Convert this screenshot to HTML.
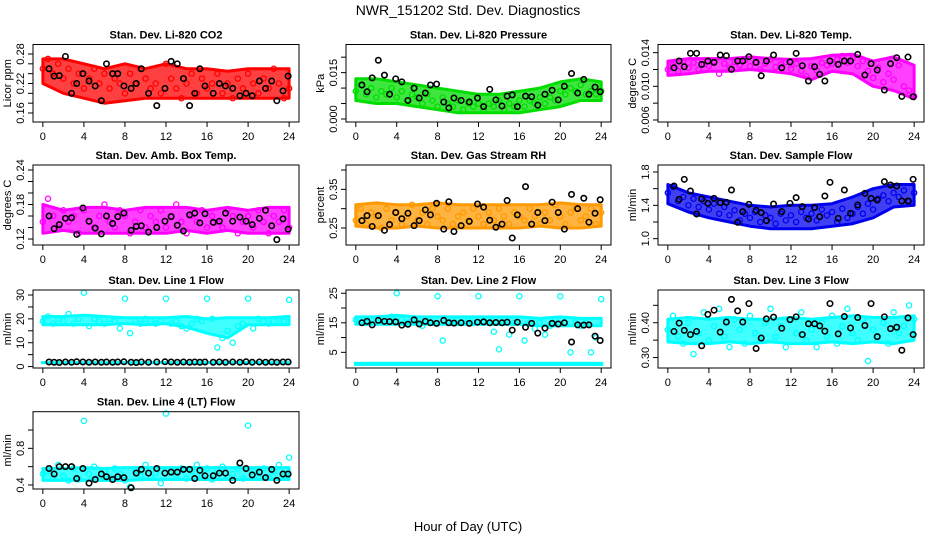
<!DOCTYPE html>
<html><head><meta charset="utf-8">
<style>
body{margin:0;background:#fff;width:936px;height:540px;overflow:hidden;font-family:"Liberation Sans",sans-serif}
svg{display:block}
</style></head>
<body>
<svg id="fig" width="936" height="540" xmlns="http://www.w3.org/2000/svg">
<text x="468" y="15" text-anchor="middle" font-size="14" font-family="Liberation Sans, sans-serif">NWR_151202 Std. Dev. Diagnostics</text>
<text x="468" y="531" text-anchor="middle" font-size="13" font-family="Liberation Sans, sans-serif">Hour of Day (UTC)</text>
</svg>
<script>
const hoursMain=[0,0.5,1,1.5,2,2.5,3,3.5,4,4.5,5,5.5,6,6.5,7,7.5,8,8.5,9,9.5,10,10.5,11,11.5,12,12.5,13,13.5,14,14.5,15,15.5,16,16.5,17,17.5,18,18.5,19,19.5,20,20.5,21,21.5,22,22.5,23,23.5,24];
const hoursBlack=[0.6,1.1,1.6,2.2,2.8,3.3,3.9,4.5,5.1,5.7,6.2,6.8,7.3,7.9,8.6,9.1,9.6,10.3,11.1,11.9,12.5,13.1,13.7,14.3,14.8,15.3,15.8,16.6,17.2,17.8,18.5,19.2,19.8,20.4,21.1,21.7,22.3,22.8,23.4,23.9];
const hoursBand=[0,2,4,6,8,10,12,14,16,18,20,22,24];
const xTicks=[0,4,8,12,16,20,24];

const co2Main=[0.25,0.27,0.24,0.26,0.23,0.25,0.22,0.24,0.21,0.23,0.25,0.22,0.24,0.21,0.23,0.22,0.20,0.24,0.22,0.25,0.23,0.21,0.22,0.20,0.26,0.23,0.21,0.19,0.22,0.24,0.20,0.23,0.21,0.22,0.24,0.20,0.22,0.19,0.23,0.21,0.24,0.22,0.20,0.23,0.21,0.25,0.22,0.19,0.21];
const co2Lo=[0.22,0.20,0.19,0.18,0.185,0.19,0.19,0.19,0.19,0.19,0.19,0.19,0.19];
const co2Hi=[0.27,0.27,0.26,0.25,0.26,0.25,0.26,0.25,0.25,0.245,0.25,0.25,0.25];
const co2Black=[0.25,0.235,0.236,0.275,0.20,0.22,0.24,0.225,0.215,0.185,0.26,0.24,0.24,0.215,0.21,0.22,0.25,0.20,0.175,0.21,0.265,0.26,0.23,0.175,0.20,0.25,0.215,0.20,0.22,0.215,0.21,0.195,0.20,0.195,0.225,0.21,0.225,0.185,0.205,0.235];

const presMain=[0.009,0.011,0.008,0.010,0.007,0.009,0.008,0.010,0.007,0.009,0.006,0.008,0.007,0.005,0.008,0.006,0.004,0.007,0.005,0.004,0.006,0.003,0.005,0.004,0.005,0.003,0.005,0.004,0.006,0.003,0.005,0.004,0.006,0.004,0.006,0.005,0.007,0.005,0.007,0.006,0.009,0.008,0.010,0.009,0.011,0.008,0.009,0.008,0.009];
const presLo=[0.006,0.005,0.005,0.004,0.003,0.002,0.002,0.002,0.002,0.003,0.004,0.006,0.006];
const presHi=[0.013,0.013,0.012,0.011,0.010,0.009,0.008,0.008,0.009,0.010,0.012,0.013,0.012];
const presBlack=[0.011,0.0088,0.0133,0.019,0.0142,0.008,0.013,0.012,0.006,0.010,0.0068,0.0084,0.011,0.0113,0.0055,0.0036,0.0068,0.006,0.0055,0.0068,0.004,0.0096,0.0062,0.0042,0.0074,0.0078,0.004,0.0074,0.0072,0.0045,0.008,0.0093,0.0062,0.0106,0.0147,0.0084,0.0128,0.008,0.0103,0.0088];

const tempMain=[0.0120,0.0125,0.0118,0.0130,0.0122,0.0128,0.0120,0.0126,0.0124,0.0130,0.0115,0.0127,0.0122,0.0129,0.0125,0.0131,0.0124,0.0128,0.0120,0.0127,0.0132,0.0123,0.0126,0.0129,0.0121,0.0127,0.0118,0.0112,0.0124,0.0119,0.0128,0.0125,0.0127,0.0132,0.0136,0.0128,0.0133,0.0124,0.0130,0.0118,0.0110,0.0122,0.0105,0.0115,0.0108,0.0125,0.0100,0.0095,0.0088];
const tempLo=[0.0113,0.0115,0.0118,0.0118,0.0120,0.0118,0.0115,0.0108,0.0118,0.0115,0.0100,0.0095,0.0085];
const tempHi=[0.0130,0.0133,0.0133,0.0133,0.0135,0.0133,0.0132,0.0133,0.0137,0.0138,0.0130,0.0135,0.0125];
const tempBlack=[0.01221,0.01301,0.01233,0.01392,0.01392,0.01261,0.01301,0.01285,0.01372,0.01364,0.01202,0.01301,0.01301,0.01352,0.01285,0.01126,0.01301,0.01372,0.01221,0.0129,0.01392,0.01245,0.01063,0.01233,0.01142,0.01063,0.01301,0.01261,0.01301,0.01301,0.0138,0.01134,0.01269,0.01194,0.00956,0.01269,0.0134,0.0088,0.01348,0.00876];

const ambMain=[0.15,0.19,0.16,0.14,0.17,0.15,0.16,0.13,0.17,0.15,0.14,0.16,0.18,0.15,0.14,0.17,0.16,0.13,0.15,0.17,0.14,0.16,0.15,0.17,0.14,0.16,0.18,0.15,0.13,0.16,0.15,0.17,0.14,0.16,0.15,0.14,0.17,0.16,0.13,0.15,0.16,0.14,0.17,0.15,0.13,0.16,0.15,0.17,0.14];
const ambLo=[0.13,0.135,0.13,0.13,0.13,0.13,0.13,0.135,0.13,0.135,0.13,0.13,0.13];
const ambHi=[0.18,0.17,0.175,0.175,0.17,0.175,0.175,0.175,0.17,0.175,0.17,0.175,0.175];
const ambBlack=[0.160,0.138,0.145,0.156,0.157,0.128,0.174,0.151,0.139,0.129,0.160,0.147,0.159,0.165,0.135,0.142,0.143,0.132,0.140,0.151,0.159,0.144,0.134,0.162,0.165,0.148,0.164,0.149,0.151,0.165,0.151,0.158,0.151,0.145,0.156,0.170,0.143,0.119,0.155,0.137];

const rhMain=[0.27,0.30,0.26,0.29,0.28,0.25,0.30,0.27,0.29,0.26,0.28,0.31,0.27,0.29,0.26,0.30,0.28,0.27,0.30,0.26,0.28,0.29,0.27,0.30,0.28,0.26,0.29,0.27,0.30,0.28,0.26,0.29,0.28,0.27,0.30,0.28,0.26,0.29,0.27,0.31,0.28,0.26,0.29,0.30,0.27,0.28,0.30,0.26,0.29];
const rhLo=[0.255,0.25,0.25,0.255,0.25,0.25,0.25,0.25,0.25,0.255,0.25,0.25,0.255];
const rhHi=[0.31,0.315,0.31,0.31,0.315,0.31,0.31,0.31,0.31,0.31,0.315,0.31,0.31];
const rhBlack=[0.269,0.282,0.254,0.282,0.244,0.259,0.290,0.274,0.288,0.256,0.269,0.297,0.284,0.314,0.247,0.318,0.241,0.256,0.267,0.312,0.304,0.270,0.252,0.260,0.321,0.224,0.284,0.357,0.260,0.290,0.269,0.317,0.290,0.247,0.337,0.300,0.327,0.265,0.288,0.323];

const flowMain=[1.55,1.62,1.45,1.50,1.40,1.48,1.38,1.45,1.35,1.42,1.30,1.38,1.28,1.34,1.22,1.30,1.25,1.32,1.20,1.28,1.25,1.18,1.30,1.22,1.28,1.20,1.32,1.25,1.30,1.22,1.35,1.28,1.32,1.20,1.36,1.25,1.30,1.38,1.30,1.42,1.35,1.48,1.52,1.45,1.55,1.50,1.58,1.45,1.55];
const flowLo=[1.42,1.32,1.25,1.20,1.15,1.12,1.12,1.12,1.15,1.18,1.25,1.38,1.40];
const flowHi=[1.65,1.55,1.50,1.45,1.40,1.38,1.40,1.40,1.42,1.50,1.60,1.65,1.65];
const flowBlack=[1.632,1.472,1.712,1.572,1.296,1.476,1.424,1.484,1.432,1.436,1.584,1.196,1.324,1.412,1.34,1.312,1.216,1.416,1.324,1.424,1.492,1.384,1.236,1.372,1.264,1.512,1.676,1.244,1.584,1.304,1.404,1.544,1.484,1.464,1.684,1.644,1.632,1.452,1.452,1.712];

const l1Main=[19,21,18,20,19,22,18,20,31,17,20,19,18,20,19,16,28.5,14,19,18,20,19,18,19,28.5,18,19,17,16,18,20,19,28.5,20,8,12,15,10,17,18,28.5,16,20,19,18,19,20,19,28];
const l1Lo=[17.5,17.5,17.5,17.5,18,17.5,18,16.5,14,12,17.5,17.5,17.5];
const l1Hi=[21,21,21.5,21,20.5,20.5,20.5,21,20,20.5,20.5,20.5,21];
const l1Base=[1.0,2.3];
const l1Black=[1.9,1.8,1.7,1.9,1.8,2.0,1.9,1.8,1.9,1.8,1.9,1.8,1.9,2.0,1.8,1.7,1.9,1.8,1.9,2.0,1.9,1.8,1.9,1.8,1.9,1.8,1.9,1.8,1.9,1.8,1.9,1.8,2.0,1.8,1.9,1.8,1.9,1.8,1.9,1.9];

const l2Main=[16,15,15,16,15,16,15,17,25,16,15,16,15,14,16,15,24,9,15,16,15,15,16,15,24,15,16,12,6,15,11,15,24,9,15,13,15,11,14,16,24,15,5,15,14,15,5,10,23];
const l2Lo=[14.5,14.5,14.5,14.5,14.5,14.5,14.5,14.5,14.5,14,14,14,14];
const l2Hi=[17,17,17.5,17,17,17,17,17,17,16.5,17,16.5,16.5];
const l2Base=[0.4,1.8];
const l2Black=[15,15.5,14.3,15.8,15.5,15.4,15.3,14.2,14.5,16,14.6,15.5,15,14.8,15.8,15,14.9,15,14.8,15.2,15.3,15,15.1,15,15.2,12.5,15.2,13.5,14.8,11.5,13.2,14.8,14.6,15,8.5,14.3,14.2,14.3,10.5,9];

const l3Main=[0.38,0.42,0.36,0.34,0.40,0.31,0.37,0.43,0.35,0.39,0.44,0.36,0.33,0.41,0.38,0.34,0.42,0.37,0.35,0.40,0.44,0.36,0.39,0.33,0.41,0.37,0.43,0.35,0.38,0.33,0.40,0.36,0.42,0.34,0.39,0.44,0.37,0.35,0.41,0.29,0.38,0.36,0.40,0.34,0.43,0.37,0.39,0.45,0.41];
const l3Lo=[0.345,0.34,0.34,0.345,0.34,0.345,0.34,0.34,0.345,0.34,0.345,0.34,0.35];
const l3Hi=[0.41,0.415,0.41,0.415,0.41,0.41,0.415,0.41,0.415,0.42,0.415,0.415,0.42];
const l3Black=[0.375,0.399,0.378,0.366,0.375,0.334,0.424,0.436,0.373,0.402,0.467,0.434,0.402,0.455,0.326,0.356,0.411,0.416,0.384,0.409,0.417,0.366,0.397,0.397,0.391,0.376,0.455,0.368,0.418,0.385,0.415,0.392,0.455,0.360,0.417,0.383,0.387,0.321,0.414,0.366];

const l4Main=[0.52,0.55,0.48,0.62,0.50,0.45,0.58,0.46,1.10,0.52,0.60,0.48,0.55,0.47,0.58,0.52,0.45,0.38,0.55,0.50,0.62,0.48,0.53,0.42,1.18,0.55,0.50,0.58,0.47,0.55,0.62,0.50,0.58,0.46,0.55,0.60,0.48,0.52,0.58,0.47,1.05,0.55,0.50,0.58,0.48,0.55,0.62,0.50,0.70];
const l4Lo=[0.45,0.45,0.45,0.45,0.45,0.46,0.46,0.46,0.46,0.46,0.46,0.46,0.46];
const l4Hi=[0.58,0.58,0.59,0.58,0.59,0.59,0.59,0.59,0.59,0.59,0.59,0.59,0.59];
const l4Black=[0.58,0.52,0.60,0.60,0.60,0.47,0.58,0.42,0.46,0.52,0.49,0.46,0.49,0.48,0.37,0.53,0.57,0.53,0.58,0.53,0.54,0.54,0.57,0.57,0.47,0.56,0.50,0.50,0.53,0.53,0.45,0.64,0.58,0.51,0.54,0.48,0.57,0.45,0.52,0.52];

const NS="http://www.w3.org/2000/svg";
const svg=document.getElementById('fig');
function mk(tag,attrs,parent){const e=document.createElementNS(NS,tag);for(const k in attrs)e.setAttribute(k,attrs[k]);(parent||svg).appendChild(e);return e;}

const panels=[
 {key:'co2',title:'Stan. Dev. Li-820 CO2',ylab:'Licor ppm',box:[33,44.5,299,122],ylim:[0.1417,0.2993],yt:[0.16,0.18,0.20,0.22,0.24,0.26,0.28],yl:[0.16,0.22,0.28],dec:2,col:'#ff0000',main:co2Main,lo:co2Lo,hi:co2Hi,black:co2Black},
 {key:'pressure',title:'Stan. Dev. Li-820 Pressure',ylab:'kPa',box:[346,44.5,611,122],ylim:[-0.00097,0.0241],yt:[0,0.005,0.010,0.015,0.020],yl:[0,0.015],dec:3,col:'#00dd00',main:presMain,lo:presLo,hi:presHi,black:presBlack},
 {key:'temp',title:'Stan. Dev. Li-820 Temp.',ylab:'degrees C',box:[658,44.5,924,122],ylim:[0.00576,0.01497],yt:[0.006,0.008,0.010,0.012,0.014],yl:[0.006,0.010,0.014],dec:3,col:'#ff00ff',main:tempMain,lo:tempLo,hi:tempHi,black:tempBlack},
 {key:'ambbox',title:'Stan. Dev. Amb. Box Temp.',ylab:'degrees C',box:[33,165,299,245],ylim:[0.1096,0.2487],yt:[0.12,0.14,0.16,0.18,0.20,0.22,0.24],yl:[0.12,0.18,0.24],dec:2,col:'#ff00ff',main:ambMain,lo:ambLo,hi:ambHi,black:ambBlack},
 {key:'rh',title:'Stan. Dev. Gas Stream RH',ylab:'percent',box:[346,165,611,245],ylim:[0.206,0.413],yt:[0.25,0.30,0.35,0.40],yl:[0.25,0.35],dec:2,col:'#ff9a00',main:rhMain,lo:rhLo,hi:rhHi,black:rhBlack},
 {key:'sampleflow',title:'Stan. Dev. Sample Flow',ylab:'ml/min',box:[658,165,924,245],ylim:[0.924,1.884],yt:[1.0,1.2,1.4,1.6,1.8],yl:[1.0,1.4,1.8],dec:1,col:'#0000ee',main:flowMain,lo:flowLo,hi:flowHi,black:flowBlack},
 {key:'line1',title:'Stan. Dev. Line 1 Flow',ylab:'ml/min',box:[33,290,299,368],ylim:[-0.6,32.1],yt:[0,5,10,15,20,25,30],yl:[0,10,20,30],dec:0,col:'#00ffff',main:l1Main,lo:l1Lo,hi:l1Hi,base:l1Base,black:l1Black},
 {key:'line2',title:'Stan. Dev. Line 2 Flow',ylab:'ml/min',box:[346,290,611,368],ylim:[-0.3,26.1],yt:[5,10,15,20,25],yl:[5,15,25],dec:0,col:'#00ffff',main:l2Main,lo:l2Lo,hi:l2Hi,base:l2Base,black:l2Black},
 {key:'line3',title:'Stan. Dev. Line 3 Flow',ylab:'ml/min',box:[658,290,924,368],ylim:[0.270,0.494],yt:[0.30,0.35,0.40,0.45],yl:[0.30,0.40],dec:2,col:'#00ffff',main:l3Main,lo:l3Lo,hi:l3Hi,black:l3Black},
 {key:'line4',title:'Stan. Dev. Line 4 (LT) Flow',ylab:'ml/min',box:[33,411.7,299,489],ylim:[0.356,1.2],yt:[0.4,0.6,0.8,1.0],yl:[0.4,0.8],dec:1,col:'#00ffff',main:l4Main,lo:l4Lo,hi:l4Hi,black:l4Black}
];

panels.forEach(p=>{
 const [x0,y0,x1,y1]=p.box;
 const xs=h=>x0+(h+0.96)/25.92*(x1-x0);
 const ys=v=>y1-(v-p.ylim[0])/(p.ylim[1]-p.ylim[0])*(y1-y0);
 const g=mk('g',{});
 
 
 const t=mk('text',{x:(x0+x1)/2,y:y0-6,'text-anchor':'middle','font-size':11,'font-weight':'bold','font-family':'Liberation Sans, sans-serif'},g);
 t.textContent=p.title;
 
 
 const cg=mk('g',{},g);
 
 
 // density band
 let d='';
 hoursBand.forEach((h,i)=>{d+=(i?'L':'M')+xs(h).toFixed(1)+' '+ys(p.hi[i]).toFixed(1);});
 for(let i=hoursBand.length-1;i>=0;i--)d+='L'+xs(hoursBand[i]).toFixed(1)+' '+ys(p.lo[i]).toFixed(1);
 const band=mk('path',{d:d+'Z',fill:p.col,'fill-opacity':0.75,stroke:p.col,'stroke-width':3,'stroke-linejoin':'round'},cg);
 
 
 if(p.base){
  const bb=mk('rect',{x:xs(0)-2,y:ys(p.base[1]),width:xs(24)-xs(0)+4,height:ys(p.base[0])-ys(p.base[1]),fill:p.col},cg);
  
  
 }
 hoursMain.forEach((h,i)=>{
  const c=mk('circle',{cx:xs(h),cy:ys(p.main[i]),r:2.6,fill:'none',stroke:p.col,'stroke-width':1.3},cg);
  
  
 });
 hoursBlack.forEach((h,i)=>{
  const c=mk('circle',{cx:xs(h),cy:ys(p.black[i]),r:2.7,fill:'none',stroke:'#000','stroke-width':1.6},cg);
  
  
 });
 const box=mk('rect',{x:x0,y:y0,width:x1-x0,height:y1-y0,fill:'none',stroke:'#000','stroke-width':1},g);
 
 
 // x axis
 const xa=mk('g',{},g);
 
 
 mk('line',{x1:xs(0),x2:xs(24),y1:y1,y2:y1,stroke:'#000'},xa);
 xTicks.forEach(v=>{
  mk('line',{x1:xs(v),x2:xs(v),y1:y1,y2:y1+5,stroke:'#000'},xa);
  const tl=mk('text',{x:xs(v),y:y1+18,'text-anchor':'middle','font-size':11,'font-family':'Liberation Sans, sans-serif'},xa);
  tl.textContent=v;
  
  
 });
 // y axis
 const ya=mk('g',{},g);
 
 
 mk('line',{x1:x0,x2:x0,y1:ys(p.yt[0]),y2:ys(p.yt[p.yt.length-1]),stroke:'#000'},ya);
 p.yt.forEach(v=>mk('line',{x1:x0-5,x2:x0,y1:ys(v),y2:ys(v),stroke:'#000'},ya));
 p.yl.forEach(v=>{
  const yy=ys(v),xx=x0-9;
  const tl=mk('text',{x:xx,y:yy,'text-anchor':'middle','font-size':11,transform:`rotate(-90 ${xx} ${yy})`,'font-family':'Liberation Sans, sans-serif'},ya);
  tl.textContent=v.toFixed(p.dec);
  
  
 });
 const cy=(y0+y1)/2, cx=x0-22;
 const yl=mk('text',{x:cx,y:cy,'text-anchor':'middle','font-size':11,transform:`rotate(-90 ${cx} ${cy})`,'font-family':'Liberation Sans, sans-serif'},g);
 yl.textContent=p.ylab;
 
 
});
</script>
</body></html>
